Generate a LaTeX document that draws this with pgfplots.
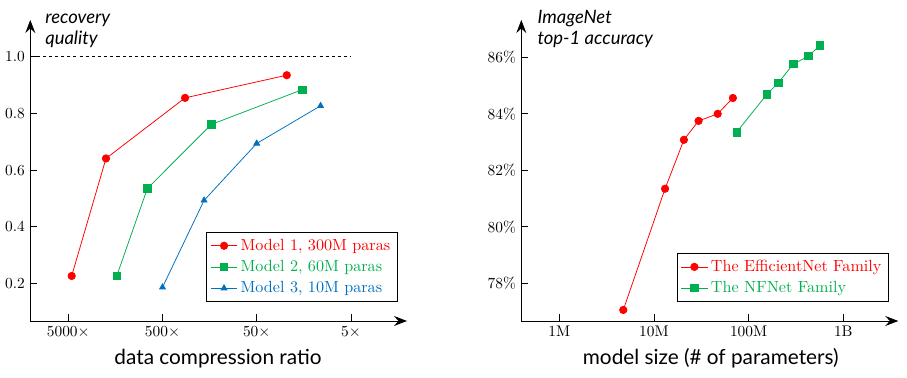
\documentclass[border=0pt]{standalone}
\usepackage{pgfplots}
\pgfplotsset{compat=1.18}
\usepackage{fontspec}
\newfontfamily\labelfont{Lato}
\usetikzlibrary{arrows.meta}
\definecolor{cred}{RGB}{255,0,0}
\definecolor{cgreen}{RGB}{0,176,80}
\definecolor{cblue}{RGB}{0,112,192}
\tikzset{bigarrow/.tip={Stealth[length=8.5pt,width=6.5pt,inset=3pt]}}
\pgfplotsset{
  myaxis/.style={
    scale only axis,
    axis lines=left,
    tick align=inside,
    major tick length=4.3pt,
    minor tick num=0,
    axis line style={line width=0.6pt},
    y axis line style={-bigarrow},
    tick style={line width=0.5pt, black},
    tick label style={font=\fontsize{10}{12}\selectfont},
    legend cell align=left,
    legend style={at={(0.975,0.062)}, anchor=south east, draw=black, line width=0.6pt,
      font=\fontsize{10.5}{12.5}\selectfont, inner sep=2.5pt, row sep=1pt},
  },
}
\begin{document}
\begin{tikzpicture}
\path (0,0) rectangle (589.55pt,245.7pt);
\begin{axis}[myaxis,
  at={(19.7pt,37.05pt)}, anchor=south west,
  width=244.86pt, height=195.65pt,
  x axis line style={bigarrow-},
  xmode=log, x dir=reverse,
  xmin=1.27, xmax=12647,
  ymin=0.067, ymax=1.13,
  xtick={5000,500,50,5},
  xticklabels={5000$\times$,500$\times$,50$\times$,5$\times$},
  ytick={0.2,0.4,0.6,0.8,1.0},
  yticklabel style={/pgf/number format/.cd, fixed, fixed zerofill, precision=1},
  xminorticks=false,
]
\addplot[black, line width=0.5pt, dash pattern=on 2pt off 2pt, forget plot] coordinates {(12647,1) (5,1)};
\addplot[cred, line width=0.5pt, mark=*, mark size=2.4pt, mark options={fill=cred, draw=cred}] coordinates {
  (4600,0.226) (1990,0.641) (288,0.855) (24.0,0.935)};
\addlegendentry{\textcolor{cred}{Model 1, 300M paras}}
\addplot[cgreen, line width=0.5pt, mark=square*, mark size=2.4pt, mark options={fill=cgreen, draw=cgreen}] coordinates {
  (1530,0.226) (724,0.535) (152,0.761) (16.4,0.884)};
\addlegendentry{\textcolor{cgreen}{Model 2, 60M paras}}
\addplot[cblue, line width=0.5pt, mark=triangle*, mark size=2.2pt, mark options={fill=cblue, draw=cblue}] coordinates {
  (500,0.186) (181,0.493) (50,0.694) (10.5,0.827)};
\addlegendentry{\textcolor{cblue}{Model 3, 10M paras}}
\end{axis}
\begin{axis}[myaxis,
  at={(338.85pt,37.05pt)}, anchor=south west,
  width=245.05pt, height=195.65pt,
  x axis line style={-bigarrow},
  xmode=log,
  xmin=3.97e5, xmax=3.81e9,
  ymin=76.67, ymax=87.32,
  xtick={1e6,1e7,1e8,1e9},
  xticklabels={1M,10M,100M,1B},
  ytick={78,80,82,84,86},
  yticklabel={\pgfmathprintnumber{\tick}\%},
  xminorticks=false,
]
\addplot[cred, line width=0.5pt, mark=*, mark size=2.4pt, mark options={fill=cred, draw=cred}] coordinates {
  (4.74e6,77.06) (13.1e6,81.35) (20.7e6,83.08) (29.6e6,83.75) (47.1e6,84.0) (68.2e6,84.56)};
\addlegendentry{\textcolor{cred}{The EfficientNet Family}}
\addplot[cgreen, line width=0.5pt, mark=square*, mark size=2.4pt, mark options={fill=cgreen, draw=cgreen}] coordinates {
  (74.6e6,83.35) (156e6,84.69) (206e6,85.10) (296e6,85.76) (427e6,86.04) (566e6,86.42)};
\addlegendentry{\textcolor{cgreen}{The NFNet Family}}
\end{axis}
\begin{scope}[every node/.style={inner sep=0pt}]
\node[anchor=base west, font=\labelfont\fontsize{12}{14}\selectfont] at (29.25pt,230.4pt) {\itshape recovery};
\node[anchor=base west, font=\labelfont\fontsize{12}{14}\selectfont] at (29.25pt,216.45pt) {\itshape quality};
\node[anchor=base west, font=\labelfont\fontsize{12}{14}\selectfont] at (349.2pt,230.4pt) {\itshape ImageNet};
\node[anchor=base west, font=\labelfont\fontsize{12}{14}\selectfont] at (349.2pt,216.45pt) {\itshape top-1 accuracy};
\node[anchor=base, font=\labelfont\fontsize{13.5}{16}\selectfont] at (141.7pt,8.45pt) {data compression ratio};
\node[anchor=base, font=\labelfont\fontsize{13.5}{16}\selectfont] at (462.0pt,8.45pt) {model size (\# of parameters)};
\end{scope}
\end{tikzpicture}
\end{document}
